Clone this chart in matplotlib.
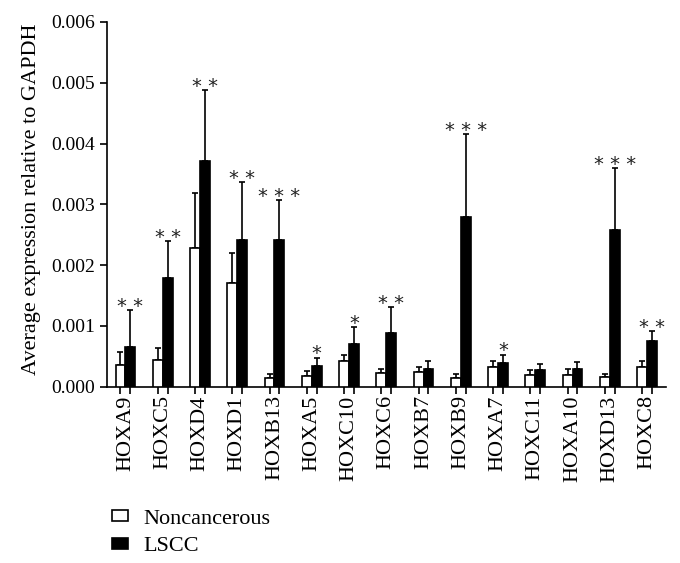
import matplotlib
matplotlib.use("Agg")
import matplotlib.pyplot as plt
import numpy as np
from matplotlib.patches import Patch
from matplotlib.ticker import FormatStrFormatter

genes = ["HOXA9", "HOXC5", "HOXD4", "HOXD1", "HOXB13", "HOXA5", "HOXC10", "HOXC6",
         "HOXB7", "HOXB9", "HOXA7", "HOXC11", "HOXA10", "HOXD13", "HOXC8"]
normal_mean = [0.00035, 0.00044, 0.00228, 0.00170, 0.00015, 0.00018, 0.00042, 0.00022,
               0.00024, 0.00015, 0.00032, 0.00019, 0.00020, 0.00016, 0.00033]
normal_top = [0.00057, 0.00063, 0.00318, 0.00220, 0.00021, 0.00026, 0.00053, 0.00029,
              0.00033, 0.00021, 0.00043, 0.00027, 0.00029, 0.00021, 0.00042]
lscc_mean = [0.00066, 0.00179, 0.00372, 0.00241, 0.00241, 0.00034, 0.00071, 0.00089,
             0.00030, 0.00279, 0.00039, 0.00027, 0.00029, 0.00258, 0.00075]
lscc_top = [0.00126, 0.00240, 0.00488, 0.00336, 0.00307, 0.00048, 0.00098, 0.00131,
            0.00042, 0.00416, 0.00053, 0.00038, 0.00040, 0.00359, 0.00092]
stars = ["**", "**", "**", "**", "***", "*", "*", "**", "", "***", "*", "", "", "***", "**"]
series_labels = ["Noncancerous", "LSCC"]
ylabel = "Average expression relative to GAPDH"

plt.rcParams['font.family'] = ['Liberation Serif', 'DejaVu Serif']

fig = plt.figure(figsize=(6.8, 5.63), dpi=100)
ax = fig.add_axes([0.157, 0.313, 0.822, 0.648])

x = np.arange(len(genes))
w = 0.265
nm = np.array(normal_mean); nt = np.array(normal_top)
lm = np.array(lscc_mean); lt = np.array(lscc_top)

ax.bar(x - w/2, nm, w, color='white', edgecolor='black', linewidth=1.2, zorder=3)
ax.bar(x + w/2, lm, w, color='black', edgecolor='black', linewidth=1.2, zorder=3)
ax.errorbar(x - w/2, nm, yerr=[np.zeros_like(nm), nt - nm], fmt='none', ecolor='black',
            elinewidth=1.2, capsize=2.2, capthick=1.2, zorder=2)
ax.errorbar(x + w/2, lm, yerr=[np.zeros_like(lm), lt - lm], fmt='none', ecolor='black',
            elinewidth=1.2, capsize=2.2, capthick=1.2, zorder=2)

for xi, top, s in zip(x, lt, stars):
    if s:
        ax.text(xi + w/2, top - 0.00003, " ".join(s), ha='center', va='baseline',
                fontsize=14, family=['DejaVu Sans'], color='#222222')

ax.set_xlim(-0.5, 14.5)
ax.set_ylim(0, 0.006)
ax.set_yticks(np.arange(0, 0.0061, 0.001))
ax.yaxis.set_major_formatter(FormatStrFormatter('%.3f'))
ticks = np.concatenate([x - w/2, x + w/2])
ax.set_xticks(ticks)
ax.set_xticklabels([])
ax.tick_params(axis='x', direction='out', length=5, width=1.2)
ax.tick_params(axis='y', direction='out', length=5, width=1.2, labelsize=14)
for xi, g in zip(x, genes):
    ax.text(xi, -0.00014, g, rotation=90, ha='center', va='top', fontsize=16,
            transform=ax.transData)
ax.set_ylabel(ylabel, fontsize=16, labelpad=10)
ax.yaxis.set_label_coords(-0.118, 0.515)
for sp in ['top', 'right']:
    ax.spines[sp].set_visible(False)
for sp in ['left', 'bottom']:
    ax.spines[sp].set_linewidth(1.2)

handles = [Patch(facecolor='white', edgecolor='black', linewidth=1.2),
           Patch(facecolor='black', edgecolor='black', linewidth=1.2)]
fig.legend(handles, series_labels, loc='upper left', bbox_to_anchor=(0.165, 0.095),
           bbox_transform=fig.transFigure, frameon=False, fontsize=16,
           handlelength=0.72, handleheight=0.36, handletextpad=0.7, labelspacing=0.4,
           borderaxespad=0, borderpad=0)
fig.savefig("out.png", dpi=100)
